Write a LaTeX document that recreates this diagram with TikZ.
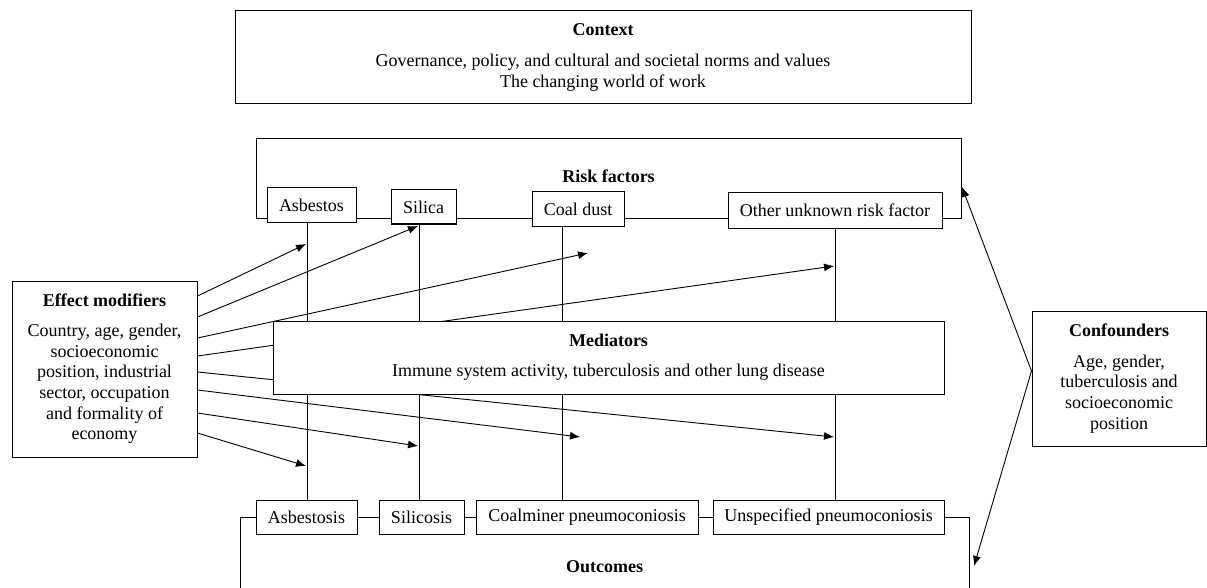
\documentclass[tikz,border=0pt]{standalone}
\usepackage{fontspec}
\setmainfont{Liberation Serif}
\usetikzlibrary{arrows.meta,calc}
\begin{document}
\begin{tikzpicture}[x=1pt,y=-1pt,
  every node/.style={font=\fontsize{18}{20.7}\selectfont},
  box/.style={draw, line width=1pt, fill=white, inner sep=0pt, align=center},
  conn/.style={line width=1pt},
  arr/.style={line width=0.9pt, -{Latex[length=10pt,width=8pt]}}]
\useasboundingbox (0,0) rectangle (1207,588);

% Context
\node[box, minimum width=736pt, minimum height=93pt] (ctx) at (603,57.5)
  {\textbf{Context}\\[10pt]Governance, policy, and cultural and societal norms and values\\The changing world of work};

% Risk factors
\node[box, minimum width=705pt, minimum height=80pt] (risk) at (608.5,179) {\raisebox{6pt}{\textbf{Risk factors}}};
\node[box, minimum width=89pt, minimum height=35pt] (asb) at (311.5,205.5) {Asbestos};
\node[box, minimum width=65pt, minimum height=34pt] (sil) at (423.5,207) {Silica};
\node[box, minimum width=92pt, minimum height=34pt] (coal) at (578,209) {Coal dust};
\node[box, minimum width=214pt, minimum height=35pt] (oth) at (835,210.5) {Other unknown risk factor};

% Outcomes
\node[box, minimum width=729pt, minimum height=110pt] (outc) at (604.5,572) {\raisebox{10pt}{\textbf{Outcomes}}};
\node[box, minimum width=101pt, minimum height=34pt] (asbo) at (306.5,517) {Asbestosis};
\node[box, minimum width=85pt, minimum height=34pt] (silo) at (421.5,517) {Silicosis};
\node[box, minimum width=222pt, minimum height=34pt] (coalo) at (587,517) {Coalminer pneumoconiosis};
\node[box, minimum width=231pt, minimum height=34pt] (unso) at (828.5,517) {Unspecified pneumoconiosis};

% vertical links
\coordinate (xa) at (307,0);
\coordinate (xs) at (419,0);
\coordinate (xc) at (562,0);
\coordinate (xo) at (835,0);
\draw[conn] (asb.south -| xa) -- (asbo.north -| xa);
\draw[conn] (sil.south -| xs) -- (silo.north -| xs);
\draw[conn] (coal.south -| xc) -- (coalo.north -| xc);
\draw[conn] (oth.south -| xo) -- (unso.north -| xo);

% Effect modifiers
\node[box, minimum width=185pt, minimum height=176pt] (em) at (104.5,369)
  {\textbf{Effect modifiers}\\[9pt]Country, age, gender,\\socioeconomic\\position, industrial\\sector, occupation\\and formality of\\economy};

\coordinate (t1) at (306,244);
\coordinate (t2) at (418,226);
\coordinate (t3) at (588,253);
\coordinate (t4) at (834,266);
\coordinate (t5) at (834,437);
\coordinate (t6) at (580,437);
\coordinate (t7) at (418,446);
\coordinate (t8) at (306,466);
\draw[arr] ([yshift=73pt]em.east) -- (t1);
\draw[arr] ([yshift=52pt]em.east) -- (t2);
\draw[arr] ([yshift=31pt]em.east) -- (t3);
\draw[arr] ([yshift=13pt]em.east) -- (t4);
\draw[arr] ([yshift=-3pt]em.east) -- (t5);
\draw[arr] ([yshift=-21pt]em.east) -- (t6);
\draw[arr] ([yshift=-44pt]em.east) -- (t7);
\draw[arr] ([yshift=-64pt]em.east) -- (t8);

% Mediators
\node[box, minimum width=671pt, minimum height=73pt] (med) at (608.5,357.5)
  {\textbf{Mediators}\\[9pt]Immune system activity, tuberculosis and other lung disease};

% Confounders
\node[box, minimum width=174pt, minimum height=135pt] (conf) at (1119,378.5)
  {\raisebox{2pt}{\textbf{Confounders}}\\[8pt]Age, gender,\\tuberculosis and\\socioeconomic\\position};
\coordinate (rtip) at (962,187);
\coordinate (otip) at (974,566);
\draw[arr] ([yshift=7.5pt]conf.west) -- (rtip);
\draw[arr] ([yshift=7.5pt]conf.west) -- (otip);
\end{tikzpicture}
\end{document}
